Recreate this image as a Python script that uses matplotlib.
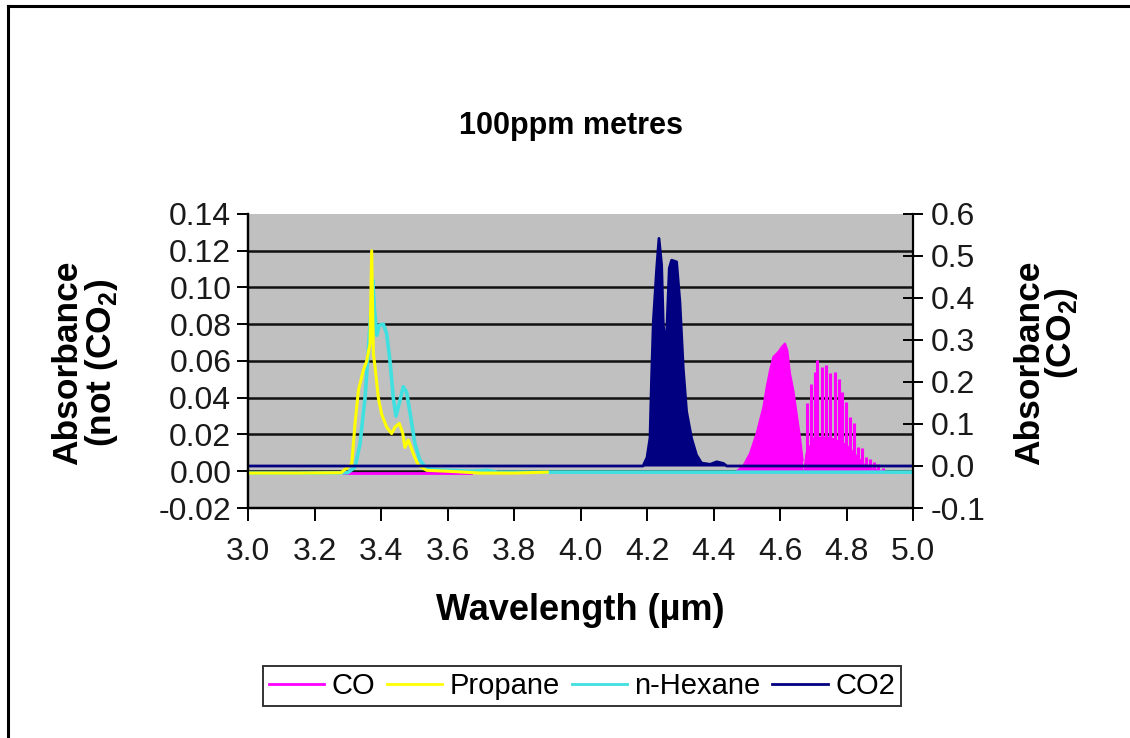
import numpy as np
import matplotlib
matplotlib.use("Agg")
import matplotlib.pyplot as plt
from matplotlib.lines import Line2D

plt.rcParams['font.family'] = ['Liberation Sans', 'DejaVu Sans']
plt.rcParams['axes.unicode_minus'] = False
plt.rcParams['mathtext.fontset'] = 'custom'
plt.rcParams['mathtext.rm'] = 'Liberation Sans'
plt.rcParams['mathtext.bf'] = 'Liberation Sans:bold'

# Propane, left axis
propane_wl = [3.00, 3.15, 3.28, 3.312, 3.322, 3.332, 3.347, 3.357, 3.367, 3.372, 3.377,
              3.382, 3.392, 3.402, 3.417, 3.432, 3.442, 3.455, 3.465, 3.472, 3.482,
              3.497, 3.512, 3.537, 3.60, 3.70, 3.80, 3.90]
propane_abs = [-0.001, -0.001, -0.0008, 0.004, 0.026, 0.044, 0.055, 0.060, 0.0695, 0.120, 0.064,
               0.057, 0.040, 0.031, 0.024, 0.0205, 0.024, 0.026, 0.021, 0.013, 0.017,
               0.0096, 0.0033, 0.0005, 0.0, -0.001, -0.001, -0.0005]

# n-Hexane, left axis
hexane_wl = [3.00, 3.15, 3.30, 3.322, 3.337, 3.352, 3.362, 3.370, 3.375, 3.380, 3.387,
             3.395, 3.407, 3.417, 3.427, 3.437, 3.445, 3.455, 3.467, 3.477, 3.489,
             3.502, 3.517, 3.537, 3.577, 3.677, 3.72, 3.75, 4.0, 4.5, 5.0]
hexane_abs = [-0.001, -0.001, -0.0008, 0.0023, 0.015, 0.040, 0.066, 0.088, 0.104, 0.089, 0.074,
              0.0795, 0.080, 0.075, 0.060, 0.040, 0.030, 0.037, 0.046, 0.043, 0.030,
              0.015, 0.006, 0.0015, 0.0007, 0.0, 0.0005, -0.0005, -0.0005, -0.0005, -0.0005]

# CO, left axis: flat segment, R branch envelope, P branch floor and lines
co_flat_wl = [3.29, 3.67]
co_flat_abs = [-0.0007, -0.0007]
co_r_wl = [4.470, 4.490, 4.51, 4.53, 4.55, 4.56, 4.57, 4.58, 4.595, 4.605, 4.615,
           4.622, 4.63, 4.64, 4.65, 4.66, 4.668]
co_r_abs = [0.0, 0.003, 0.0098, 0.0207, 0.035, 0.0459, 0.055, 0.0622, 0.0649, 0.0676, 0.0695,
            0.0659, 0.0532, 0.0441, 0.0314, 0.0187, 0.006]
co_p_floor_wl = [4.668, 4.675, 4.70, 4.75, 4.80, 4.83, 4.86, 4.90, 4.935]
co_p_floor_abs = [0.0, 0.010, 0.019, 0.019, 0.015, 0.009, 0.003, 0.001, 0.0]
co_p_line_wl = [4.681, 4.692, 4.705, 4.712, 4.725, 4.738, 4.750, 4.765, 4.776, 4.786,
                4.798, 4.811, 4.823, 4.836, 4.846, 4.859, 4.871, 4.883, 4.896, 4.91]
co_p_line_abs = [0.037, 0.0477, 0.054, 0.0604, 0.0568, 0.0577, 0.0532, 0.054, 0.050, 0.0432,
                 0.0377, 0.0296, 0.026, 0.0132, 0.0124, 0.0078, 0.0069, 0.0051, 0.0042, 0.002]

# CO2, right axis
co2_wl = [3.00, 4.188, 4.200, 4.209, 4.214, 4.219, 4.229, 4.236, 4.244, 4.249, 4.254,
          4.2555, 4.259, 4.267, 4.274, 4.289, 4.299, 4.309, 4.319, 4.334, 4.349, 4.364,
          4.39, 4.41, 4.43, 4.44, 5.00]
co2_abs = [0.0, 0.0, 0.02, 0.067, 0.217, 0.344, 0.47, 0.542, 0.478, 0.336, 0.30,
           0.29, 0.312, 0.471, 0.49, 0.486, 0.39, 0.233, 0.13, 0.066, 0.026, 0.007,
           0.004, 0.01, 0.006, 0.0, 0.0]

x_ticks = [3.0, 3.2, 3.4, 3.6, 3.8, 4.0, 4.2, 4.4, 4.6, 4.8, 5.0]
left_ticks = [-0.02, 0.00, 0.02, 0.04, 0.06, 0.08, 0.10, 0.12, 0.14]
right_ticks = [-0.1, 0.0, 0.1, 0.2, 0.3, 0.4, 0.5, 0.6]

c_co = '#FF00FF'
c_propane = '#FFFF00'
c_hexane = '#40E0E0'
c_co2 = '#000080'
tick_fs = 23

fig = plt.figure(figsize=(11.3, 7.38), dpi=100)
ax = fig.add_axes([248 / 1130, 1 - 508 / 738, 665 / 1130, 294 / 738])
ax.set_facecolor('#C0C0C0')
ax.set_xlim(3.0, 5.0)
ax.set_ylim(-0.02, 0.14)
ax.set_xticks(x_ticks)
ax.set_xticklabels([f"{v:.1f}" for v in x_ticks])
ax.set_yticks(left_ticks)
ax.set_yticklabels([f"{v:.2f}" for v in left_ticks])
for y in left_ticks[1:-1]:
    ax.axhline(y, color='#111111', lw=1.8, zorder=1)

# CO
ax.plot(co_flat_wl, co_flat_abs, color=c_co, lw=2, zorder=2)
ax.fill_between(co_r_wl, 0, co_r_abs, color=c_co, lw=0, zorder=2)
ax.plot(co_r_wl, co_r_abs, color=c_co, lw=1.5, zorder=2)
ax.fill_between(co_p_floor_wl, 0, co_p_floor_abs, color=c_co, lw=0, zorder=2)
ax.vlines(co_p_line_wl, 0, co_p_line_abs, color=c_co, lw=2.2, zorder=2)
ax.plot([co_r_wl[0], co_p_floor_wl[-1]], [-0.0003, -0.0003], color=c_co, lw=2, zorder=2)

ax.plot(hexane_wl, hexane_abs, color=c_hexane, lw=2.6, zorder=3)
ax.plot(propane_wl, propane_abs, color=c_propane, lw=2.2, zorder=4)

ax2 = ax.twinx()
ax2.set_ylim(-0.1, 0.6)
ax2.set_yticks(right_ticks)
ax2.set_yticklabels([f"{v:.1f}" for v in right_ticks])
ax2.fill_between(co2_wl, 0, co2_abs, color=c_co2, lw=0)
ax2.plot(co2_wl, co2_abs, color=c_co2, lw=2)

for a in (ax, ax2):
    a.spines['top'].set_visible(False)
    for s in ('left', 'right', 'bottom'):
        a.spines[s].set_linewidth(1.6)
        a.spines[s].set_color('black')
ax.spines['right'].set_visible(False)
ax.tick_params(axis='x', direction='out', length=9, width=1.4, labelsize=tick_fs, pad=12,
               labelcolor='#1a1a1a')
ax.tick_params(axis='y', direction='out', length=8, width=1.4, labelsize=tick_fs, pad=4,
               labelcolor='#1a1a1a')
ax2.tick_params(axis='y', direction='inout', length=15, width=1.4, labelsize=tick_fs, pad=5,
                labelcolor='#1a1a1a')

fig.text(571 / 1130, 1 - 126 / 738, "100ppm metres", fontsize=22, fontweight='bold',
         ha='center', va='center')
fig.text(580 / 1130, 1 - 610 / 738, "Wavelength (\u00b5m)", fontsize=26, fontweight='bold',
         ha='center', va='center')
fig.text(68 / 1130, 1 - 363 / 738, "Absorbance", fontsize=25.5, fontweight='bold',
         rotation=90, ha='center', va='center')
fig.text(101 / 1130, 1 - 363 / 738, r"(not (CO$_\mathbf{2}$)", fontsize=25.5, fontweight='bold',
         rotation=90, ha='center', va='center')
fig.text(1030 / 1130, 1 - 363 / 738, "Absorbance", fontsize=25.5, fontweight='bold',
         rotation=90, ha='center', va='center')
fig.text(1062 / 1130, 1 - 333 / 738, r"(CO$_\mathbf{2}$)", fontsize=25.5, fontweight='bold',
         rotation=90, ha='center', va='center')

handles = [Line2D([], [], color=c, lw=2) for c in (c_co, c_propane, c_hexane, c_co2)]
fig.legend(handles, ["CO", "Propane", "n-Hexane", "CO2"], loc='center', ncol=4,
           bbox_to_anchor=(582 / 1130, 1 - 686 / 738), fontsize=21, frameon=True,
           fancybox=False, edgecolor='black', handlelength=1.9, handletextpad=0.25,
           columnspacing=0.4, borderpad=0.2, borderaxespad=0)
fig.legends[0].get_frame().set_linewidth(1.4)

# outer frame (top and left edges)
fig.add_artist(Line2D([8 / 1130, 1], [1 - 6 / 738, 1 - 6 / 738], transform=fig.transFigure,
                      color='black', lw=2.2))
fig.add_artist(Line2D([8 / 1130, 8 / 1130], [0, 1 - 6 / 738], transform=fig.transFigure,
                      color='black', lw=2.2))

fig.savefig("out.png", dpi=100)
